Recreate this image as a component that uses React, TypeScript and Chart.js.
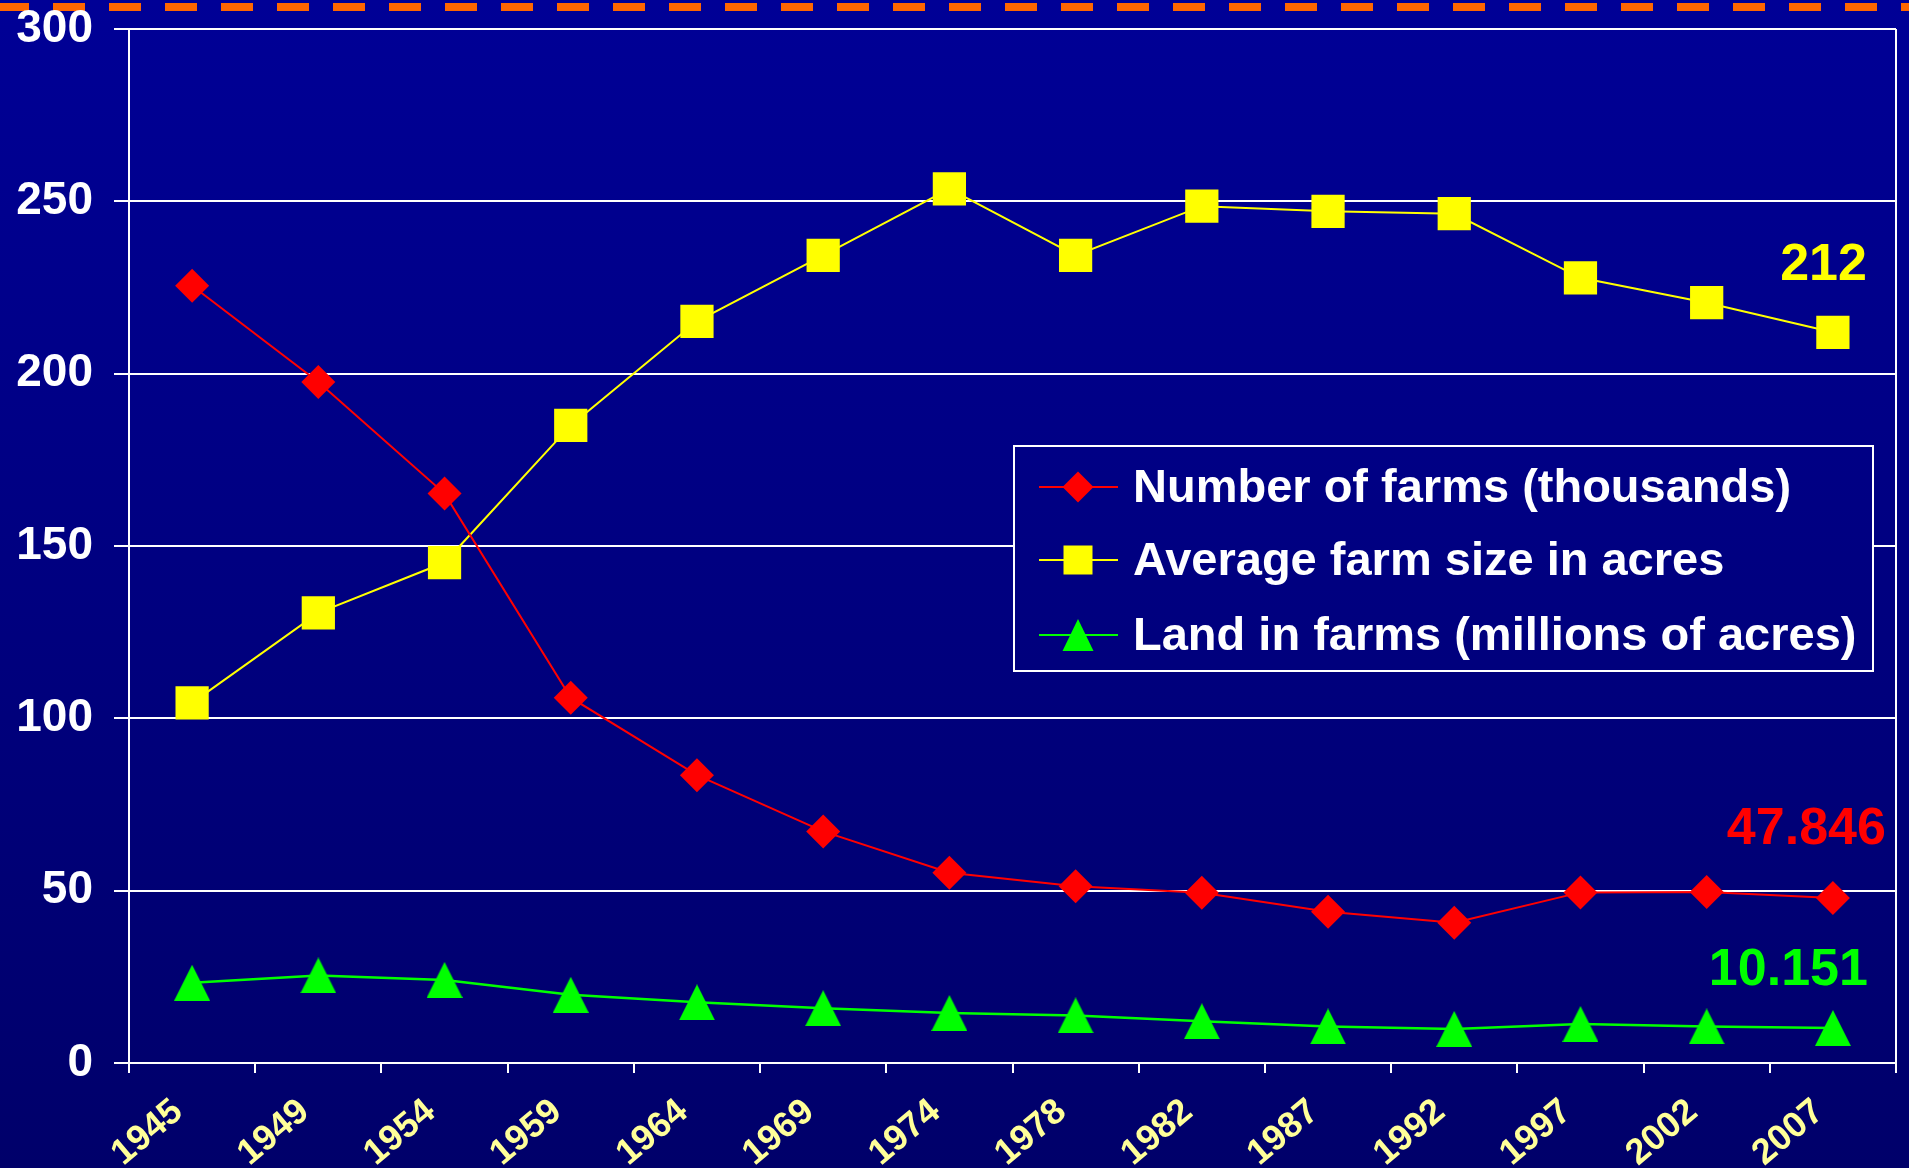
import React, { useEffect, useRef } from 'react';
import { Chart, registerables } from 'chart.js';

Chart.register(...registerables);

const years = ['1945', '1949', '1954', '1959', '1964', '1969', '1974', '1978', '1982', '1987', '1992', '1997', '2002', '2007'];
const farmsThousands = [225.5, 197.6, 165.2, 106.0, 83.5, 67.2, 55.2, 51.3, 49.4, 43.9, 40.7, 49.5, 49.6, 47.846];
const avgFarmSize = [104.5, 130.6, 145.2, 185.0, 215.2, 234.3, 253.6, 234.3, 248.6, 247.1, 246.4, 227.8, 220.6, 212];
const landMillionAcres = [23.3, 25.4, 24.1, 19.8, 17.6, 15.9, 14.5, 13.8, 12.1, 10.6, 9.9, 11.3, 10.6, 10.151];
const seriesLabels = ['Number of farms (thousands)', 'Average farm size in acres', 'Land in farms (millions of acres)'];
const seriesColors = ['#FF0000', '#FFFF00', '#00FF00'];
const endLabels = ['47.846', '212', '10.151'];
const yMin = 0;
const yMax = 300;
const yStep = 50;

const FONT = '"Liberation Sans", Arial, sans-serif';

function makeTriangle(w: number, h: number, color: string): HTMLCanvasElement {
  const c = document.createElement('canvas');
  c.width = w;
  c.height = h;
  const x = c.getContext('2d')!;
  x.fillStyle = color;
  x.beginPath();
  x.moveTo(w / 2, 0);
  x.lineTo(w, h);
  x.lineTo(0, h);
  x.closePath();
  x.fill();
  return c;
}

function bgGradient(ctx: CanvasRenderingContext2D, height: number) {
  const g = ctx.createLinearGradient(0, 0, 0, height);
  g.addColorStop(0, '#000096');
  g.addColorStop(1, '#00006A');
  return g;
}

const decorPlugin = {
  id: 'decor',
  beforeDraw(chart: any) {
    const { ctx, width, height } = chart;
    ctx.save();
    ctx.fillStyle = bgGradient(ctx, height);
    ctx.fillRect(0, 0, width, height);
    ctx.strokeStyle = '#FF6600';
    ctx.lineWidth = 8;
    ctx.setLineDash([32, 24]);
    ctx.lineDashOffset = 3;
    ctx.beginPath();
    ctx.moveTo(0, 7);
    ctx.lineTo(width, 7);
    ctx.stroke();
    ctx.restore();
  },
  afterDraw(chart: any) {
    const { ctx, chartArea, height } = chart;
    ctx.save();
    ctx.strokeStyle = '#FFFFFF';
    ctx.lineWidth = 2;
    ctx.beginPath();
    ctx.moveTo(chartArea.right, chartArea.top);
    ctx.lineTo(chartArea.right, chartArea.bottom);
    ctx.stroke();

    const offs = [
      [53, -68],
      [34, -67],
      [35, -57],
    ];
    ctx.font = `bold 52px ${FONT}`;
    ctx.textAlign = 'right';
    ctx.textBaseline = 'middle';
    for (let i = 0; i < 3; i++) {
      const meta = chart.getDatasetMeta(i);
      const pt = meta.data[meta.data.length - 1];
      ctx.fillStyle = seriesColors[i];
      ctx.fillText(endLabels[i], pt.x + offs[i][0], pt.y + offs[i][1]);
    }

    const L = 1014, T = 446, R = 1873, B = 671;
    ctx.fillStyle = bgGradient(ctx, height);
    ctx.fillRect(L, T, R - L, B - T);
    ctx.strokeStyle = '#FFFFFF';
    ctx.lineWidth = 2;
    ctx.strokeRect(L, T, R - L, B - T);
    const rows = [487, 560, 635];
    const lx0 = 1039, lx1 = 1118, mx = 1078;
    ctx.font = `bold 47px ${FONT}`;
    ctx.textAlign = 'left';
    ctx.textBaseline = 'middle';
    for (let i = 0; i < 3; i++) {
      const y = rows[i];
      ctx.strokeStyle = seriesColors[i];
      ctx.fillStyle = seriesColors[i];
      ctx.lineWidth = 2;
      ctx.beginPath();
      ctx.moveTo(lx0, y);
      ctx.lineTo(lx1, y);
      ctx.stroke();
      ctx.beginPath();
      if (i === 0) {
        const r = 15.5;
        ctx.moveTo(mx, y - r);
        ctx.lineTo(mx + r, y);
        ctx.lineTo(mx, y + r);
        ctx.lineTo(mx - r, y);
        ctx.closePath();
      } else if (i === 1) {
        ctx.rect(mx - 14.5, y - 14.5, 29, 29);
      } else {
        ctx.moveTo(mx, y - 16);
        ctx.lineTo(mx + 15.5, y + 16);
        ctx.lineTo(mx - 15.5, y + 16);
        ctx.closePath();
      }
      ctx.fill();
      ctx.fillStyle = '#FFFFFF';
      ctx.fillText(seriesLabels[i], 1133, y + 2);
    }
    ctx.restore();
  },
};

export default function App() {
  const ref = useRef<HTMLCanvasElement | null>(null);

  useEffect(() => {
    document.body.style.margin = '0';
    const canvas = ref.current!;
    const tri = makeTriangle(36, 36, '#00FF00');
    const chart = new Chart(canvas, {
      type: 'line',
      data: {
        labels: years,
        datasets: [
          {
            label: seriesLabels[0],
            data: farmsThousands,
            borderColor: seriesColors[0],
            backgroundColor: seriesColors[0],
            borderWidth: 2,
            pointStyle: 'rectRot',
            pointRadius: 17,
            pointBorderWidth: 0,
            tension: 0,
          },
          {
            label: seriesLabels[1],
            data: avgFarmSize,
            borderColor: seriesColors[1],
            backgroundColor: seriesColors[1],
            borderWidth: 2,
            pointStyle: 'rect',
            pointRadius: 23.5,
            pointBorderWidth: 0,
            tension: 0,
          },
          {
            label: seriesLabels[2],
            data: landMillionAcres,
            borderColor: seriesColors[2],
            backgroundColor: seriesColors[2],
            borderWidth: 2.5,
            pointStyle: tri as any,
            pointRadius: 18,
            tension: 0,
          },
        ],
      },
      options: {
        animation: false,
        responsive: false,
        devicePixelRatio: 1,
        layout: { autoPadding: false, padding: { top: 29, right: 13, left: 0, bottom: 0 } },
        plugins: {
          legend: { display: false },
          tooltip: { enabled: false },
        },
        scales: {
          x: {
            offset: true,
            afterFit: (s: any) => {
              s.height = 105;
              s.paddingLeft = 0;
              s.paddingRight = 0;
              s.paddingTop = 0;
              s.paddingBottom = 0;
            },
            grid: {
              offset: true,
              drawOnChartArea: false,
              drawTicks: true,
              tickLength: 10,
              color: '#FFFFFF',
              lineWidth: 2,
            },
            border: { color: '#FFFFFF', width: 2 },
            ticks: {
              autoSkip: false,
              maxRotation: 40,
              minRotation: 40,
              padding: 6,
              color: '#FFFF99',
              font: { family: FONT, size: 36, weight: 'bold' },
              callback: (_v: any, i: number) => years[i] + '\u2002',
            },
          },
          y: {
            min: yMin,
            max: yMax,
            afterFit: (s: any) => {
              s.width = 129;
              s.paddingLeft = 0;
              s.paddingRight = 0;
              s.paddingTop = 0;
              s.paddingBottom = 0;
            },
            grid: {
              color: '#FFFFFF',
              lineWidth: 2,
              tickLength: 15,
            },
            border: { color: '#FFFFFF', width: 2 },
            ticks: {
              stepSize: yStep,
              padding: 21,
              color: '#FFFFFF',
              font: { family: FONT, size: 46, weight: 'bold' },
            },
          },
        },
      },
      plugins: [decorPlugin],
    });
    return () => chart.destroy();
  }, []);

  return (
    <div style={{ width: 1909, height: 1168 }}>
      <canvas ref={ref} width={1909} height={1168} style={{ display: 'block' }} />
    </div>
  );
}
